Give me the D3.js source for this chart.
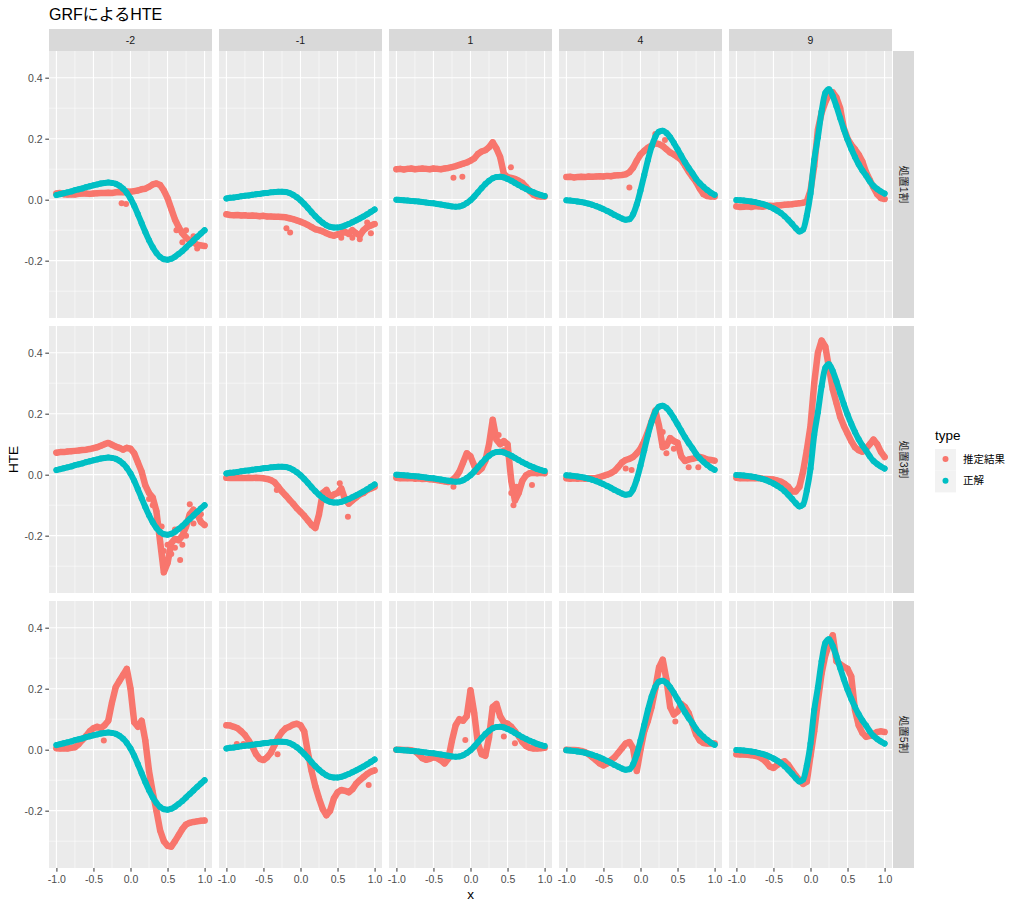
<!DOCTYPE html>
<html>
<head>
<meta charset="utf-8">
<script src="https://cdn.jsdelivr.net/npm/d3@7"></script>
<style>
  body { margin: 0; background: #fff; }
  text { font-family: "Liberation Sans", "Noto Sans CJK JP", sans-serif; }
</style>
</head>
<body>
<svg id="chart" width="1021" height="910"></svg>
<script>
// facet labels
const colLabels = ['-2', '-1', '1', '4', '9'];
const rowLabels = ['処置1割', '処置3割', '処置5割'];
const typeNames = ['推定結果', '正解'];

// x positions of the read values
const xGrid = [-1,-0.95,-0.9,-0.85,-0.8,-0.75,-0.7,-0.65,-0.6,-0.55,-0.5,-0.45,-0.4,-0.35,-0.3,-0.25,-0.2,-0.15,-0.1,-0.05,
  0,0.05,0.1,0.15,0.2,0.25,0.3,0.35,0.4,0.45,0.5,0.55,0.6,0.65,0.7,0.75,0.8,0.85,0.9,0.95,1];

// 正解 (same in every row)
const truth_m2 = [0.015,0.018,0.021,0.024,0.027,0.031,0.034,0.037,0.041,0.044,0.047,0.050,0.053,0.055,0.056,0.055,0.052,0.046,0.036,0.022,
  0.004,-0.020,-0.048,-0.077,-0.106,-0.133,-0.156,-0.175,-0.188,-0.195,-0.197,-0.194,-0.187,-0.178,-0.168,-0.157,-0.145,-0.134,-0.122,-0.111,-0.100];
const truth_m1 = [0.004,0.006,0.007,0.009,0.011,0.013,0.014,0.016,0.018,0.019,0.021,0.022,0.024,0.025,0.026,0.026,0.025,0.022,0.016,0.008,
  -0.002,-0.014,-0.027,-0.041,-0.054,-0.066,-0.076,-0.084,-0.089,-0.091,-0.091,-0.089,-0.085,-0.080,-0.074,-0.068,-0.062,-0.055,-0.048,-0.040,-0.032];
const truth_p1 = [0.000,-0.001,-0.002,-0.003,-0.004,-0.005,-0.006,-0.008,-0.009,-0.011,-0.012,-0.014,-0.016,-0.018,-0.020,-0.022,-0.023,-0.022,-0.018,-0.011,
  -0.002,0.010,0.024,0.038,0.051,0.062,0.070,0.074,0.075,0.073,0.068,0.062,0.055,0.048,0.041,0.035,0.029,0.024,0.019,0.015,0.012];
const truth_p4 = [-0.002,-0.003,-0.004,-0.006,-0.008,-0.010,-0.013,-0.017,-0.021,-0.026,-0.031,-0.037,-0.043,-0.050,-0.056,-0.062,-0.066,-0.064,-0.048,-0.015,
  0.030,0.080,0.130,0.174,0.206,0.223,0.226,0.219,0.205,0.186,0.165,0.144,0.123,0.104,0.087,0.068,0.054,0.042,0.032,0.023,0.016];
const truth_p9 = [-0.001,-0.002,-0.003,-0.004,-0.006,-0.008,-0.011,-0.014,-0.018,-0.023,-0.029,-0.036,-0.044,-0.054,-0.066,-0.079,-0.093,-0.104,-0.098,-0.052,
  0.020,0.130,0.205,0.290,0.350,0.362,0.340,0.306,0.268,0.231,0.197,0.167,0.140,0.116,0.096,0.079,0.060,0.045,0.035,0.027,0.020];

// 推定結果, 処置1割
const est1_m2 = [0.020,0.022,0.018,0.017,0.018,0.017,0.019,0.020,0.020,0.019,0.020,0.021,0.022,0.022,0.023,0.022,0.024,0.025,0.024,0.027,
  0.026,0.028,0.030,0.034,0.036,0.042,0.050,0.053,0.048,0.030,0.005,-0.030,-0.065,-0.090,-0.110,-0.125,-0.135,-0.140,-0.148,-0.150,-0.152];
const est1_m1 = [-0.048,-0.050,-0.051,-0.050,-0.052,-0.051,-0.053,-0.052,-0.053,-0.054,-0.053,-0.055,-0.055,-0.056,-0.056,-0.057,-0.058,-0.061,-0.064,-0.068,
  -0.072,-0.077,-0.083,-0.090,-0.097,-0.100,-0.104,-0.110,-0.115,-0.118,-0.114,-0.110,-0.105,-0.112,-0.100,-0.110,-0.118,-0.100,-0.090,-0.085,-0.080];
const est1_p1 = [0.100,0.101,0.099,0.101,0.102,0.100,0.101,0.102,0.101,0.100,0.102,0.101,0.100,0.102,0.104,0.107,0.110,0.114,0.118,0.122,
  0.128,0.135,0.150,0.158,0.162,0.172,0.188,0.168,0.140,0.085,0.074,0.071,0.068,0.062,0.055,0.042,0.028,0.016,0.011,0.010,0.010];
const est1_p4 = [0.074,0.075,0.073,0.074,0.075,0.074,0.076,0.075,0.076,0.077,0.076,0.078,0.077,0.079,0.080,0.081,0.083,0.090,0.105,0.128,
  0.148,0.160,0.170,0.178,0.185,0.182,0.176,0.165,0.155,0.148,0.140,0.130,0.112,0.092,0.075,0.058,0.036,0.018,0.012,0.010,0.010];
const est1_p9 = [-0.022,-0.024,-0.023,-0.022,-0.024,-0.021,-0.022,-0.023,-0.021,-0.020,-0.021,-0.019,-0.018,-0.017,-0.016,-0.015,-0.013,-0.012,-0.010,-0.006,
  0.030,0.110,0.230,0.285,0.320,0.345,0.352,0.335,0.300,0.235,0.200,0.180,0.165,0.148,0.125,0.090,0.065,0.040,0.018,0.005,0.002];

// 推定結果, 処置3割
const est2_m2 = [0.072,0.074,0.074,0.076,0.077,0.078,0.079,0.081,0.082,0.084,0.087,0.090,0.095,0.100,0.104,0.098,0.092,0.088,0.082,0.088,
  0.085,0.070,0.040,0.010,-0.035,-0.060,-0.075,-0.120,-0.220,-0.320,-0.290,-0.225,-0.210,-0.215,-0.200,-0.170,-0.130,-0.115,-0.130,-0.155,-0.165];
const est2_m1 = [-0.010,-0.011,-0.010,-0.011,-0.010,-0.011,-0.010,-0.011,-0.010,-0.011,-0.012,-0.014,-0.018,-0.025,-0.040,-0.055,-0.068,-0.082,-0.095,-0.110,
  -0.122,-0.135,-0.150,-0.165,-0.175,-0.130,-0.060,-0.050,-0.075,-0.065,-0.060,-0.045,-0.080,-0.095,-0.085,-0.075,-0.065,-0.060,-0.050,-0.045,-0.040];
const est2_p1 = [-0.010,-0.012,-0.011,-0.012,-0.011,-0.013,-0.012,-0.014,-0.013,-0.015,-0.016,-0.018,-0.020,-0.022,-0.024,-0.018,-0.008,0.010,0.040,0.070,
  0.060,0.030,0.010,0.020,0.045,0.100,0.180,0.115,0.100,0.110,0.100,-0.020,-0.085,-0.060,-0.020,-0.002,0.005,0.006,0.005,0.006,0.005];
const est2_p4 = [-0.012,-0.013,-0.012,-0.013,-0.012,-0.013,-0.012,-0.012,-0.011,-0.008,-0.004,0.000,0.005,0.012,0.025,0.040,0.048,0.052,0.058,0.070,
  0.085,0.110,0.140,0.175,0.210,0.160,0.090,0.095,0.120,0.110,0.105,0.060,0.045,0.050,0.052,0.055,0.058,0.055,0.050,0.048,0.046];
const est2_p9 = [-0.010,-0.012,-0.011,-0.012,-0.011,-0.012,-0.011,-0.013,-0.014,-0.015,-0.016,-0.019,-0.023,-0.030,-0.040,-0.055,-0.055,-0.040,0.010,0.080,
  0.160,0.300,0.400,0.440,0.420,0.350,0.280,0.235,0.190,0.160,0.135,0.110,0.090,0.080,0.075,0.085,0.100,0.115,0.100,0.075,0.058];

// 推定結果, 処置5割
const est3_m2 = [0.005,0.004,0.005,0.004,0.006,0.008,0.018,0.032,0.045,0.060,0.070,0.075,0.070,0.080,0.095,0.155,0.205,0.225,0.245,0.265,
  0.200,0.090,0.075,0.095,0.030,-0.070,-0.140,-0.200,-0.265,-0.300,-0.315,-0.318,-0.300,-0.280,-0.260,-0.245,-0.240,-0.237,-0.235,-0.233,-0.232];
const est3_m1 = [0.080,0.079,0.075,0.070,0.060,0.048,0.030,0.010,-0.015,-0.030,-0.034,-0.025,-0.010,0.015,0.040,0.058,0.070,0.075,0.082,0.085,
  0.080,0.060,-0.010,-0.070,-0.120,-0.160,-0.195,-0.215,-0.200,-0.160,-0.140,-0.132,-0.135,-0.140,-0.130,-0.112,-0.100,-0.090,-0.080,-0.072,-0.068];
const est3_p1 = [0.000,0.000,-0.001,-0.001,-0.002,-0.005,-0.015,-0.028,-0.033,-0.030,-0.025,-0.028,-0.035,-0.045,-0.030,0.030,0.080,0.100,0.095,0.110,
  0.195,0.120,0.020,-0.015,-0.020,0.040,0.140,0.150,0.110,0.090,0.085,0.075,0.060,0.045,0.025,0.012,0.006,0.004,0.004,0.005,0.006];
const est3_p4 = [0.000,-0.001,-0.001,-0.002,-0.004,-0.008,-0.015,-0.025,-0.035,-0.045,-0.052,-0.045,-0.035,-0.025,-0.010,0.005,0.020,0.025,0.005,-0.070,
  0.000,0.060,0.095,0.140,0.200,0.270,0.295,0.230,0.140,0.115,0.125,0.150,0.140,0.120,0.085,0.050,0.030,0.022,0.020,0.020,0.020];
const est3_p9 = [-0.015,-0.016,-0.016,-0.017,-0.018,-0.020,-0.023,-0.030,-0.040,-0.055,-0.060,-0.050,-0.042,-0.038,-0.050,-0.068,-0.085,-0.100,-0.112,-0.105,
  -0.020,0.060,0.160,0.250,0.310,0.345,0.375,0.290,0.280,0.272,0.265,0.240,0.130,0.080,0.055,0.042,0.045,0.052,0.058,0.060,0.058];

// stray 推定結果 points: [column, x, HTE]
const stray1 = [[0,-0.12,-0.012],[0,-0.06,-0.014],[0,0.62,-0.10],[0,0.7,-0.14],[0,0.75,-0.10],[0,0.85,-0.12],[0,0.9,-0.16],
  [1,-0.19,-0.094],[1,-0.14,-0.108],[1,0.55,-0.125],[1,0.7,-0.125],[1,0.8,-0.13],[1,0.9,-0.075],[1,0.95,-0.11],
  [2,-0.23,0.072],[2,-0.11,0.075],[2,0.545,0.106],[3,-0.15,0.040],[3,0.20,0.215],[3,0.33,0.196]];
const stray2 = [[0,0.67,-0.28],[0,0.8,-0.097],[0,0.25,-0.08],[0,0.3,-0.10],[0,0.35,-0.15],[0,0.42,-0.17],[0,0.45,-0.25],[0,0.5,-0.23],
  [0,0.55,-0.26],[0,0.6,-0.24],[0,0.6,-0.18],[0,0.7,-0.23],[0,0.75,-0.2],[0,0.85,-0.16],[0,0.95,-0.13],
  [1,-0.32,-0.05],[1,0.53,-0.028],[1,0.64,-0.138],[2,-0.23,-0.04],[2,0.83,-0.034],[2,0.55,-0.06],[2,0.58,-0.1],[2,0.62,-0.04],
  [2,0.38,0.13],[2,0.45,0.08],[3,-0.2,0.02],[3,-0.12,0.015],[3,0.65,0.024],[3,0.78,0.024],[3,0.3,0.14],[3,0.35,0.07],[3,0.45,0.085]];
const stray3 = [[0,-0.36,0.03],[1,-0.86,0.019],[1,-0.77,0.019],[1,-0.31,-0.015],[1,0.92,-0.116],[2,-0.07,0.032],[2,0.45,0.043],
  [2,0.6,0.021],[3,0.47,0.092]];

const xMajor = [-1, -0.5, 0, 0.5, 1];
const xMinor = [-0.75, -0.25, 0.25, 0.75];
const yMajor = [-0.2, 0, 0.2, 0.4];
const yMinor = [-0.3, -0.1, 0.1, 0.3];

const truthByCol = [truth_m2, truth_m1, truth_p1, truth_p4, truth_p9];
const estByRow = [
  [est1_m2, est1_m1, est1_p1, est1_p4, est1_p9],
  [est2_m2, est2_m1, est2_p1, est2_p4, est2_p9],
  [est3_m2, est3_m1, est3_p1, est3_p4, est3_p9]
];
const strayByRow = [stray1, stray2, stray3];

const svg = d3.select('#chart');
const panelW = 163, panelH = 267;
const left0 = 49, top0 = 51, stepX = 170, stepY = 275;

const x = d3.scaleLinear().domain([-1.1, 1.1]).range([0, panelW]);
const y = d3.scaleLinear().domain([-0.388, 0.4875]).range([panelH, 0]);
const color = d3.scaleOrdinal().domain(typeNames).range(['#F8766D', '#00BFC4']);

const toPts = vals => vals.map((v, i) => ({x: xGrid[i], y: v}));
const lineSmooth = d3.line().x(d => x(d.x)).y(d => y(d.y)).curve(d3.curveMonotoneX);
const lineRough = d3.line().x(d => x(d.x)).y(d => y(d.y));

// title
svg.append('text').attr('x', 49).attr('y', 20)
  .style('font-size', '16px').attr('fill', '#000').text('GRFによるHTE');

rowLabels.forEach((rl, r) => {
  colLabels.forEach((cl, c) => {
    const g = svg.append('g')
      .attr('transform', `translate(${left0 + c * stepX},${top0 + r * stepY})`);

    g.append('rect').attr('width', panelW).attr('height', panelH).attr('fill', '#EBEBEB');

    g.selectAll('.vmin').data(xMinor).enter().append('line')
      .attr('x1', d => x(d)).attr('x2', d => x(d)).attr('y1', 0).attr('y2', panelH)
      .attr('stroke', '#fff').attr('stroke-width', 0.55);
    g.selectAll('.hmin').data(yMinor).enter().append('line')
      .attr('y1', d => y(d)).attr('y2', d => y(d)).attr('x1', 0).attr('x2', panelW)
      .attr('stroke', '#fff').attr('stroke-width', 0.55);
    g.selectAll('.vmaj').data(xMajor).enter().append('line')
      .attr('x1', d => x(d)).attr('x2', d => x(d)).attr('y1', 0).attr('y2', panelH)
      .attr('stroke', '#fff').attr('stroke-width', 1.1);
    g.selectAll('.hmaj').data(yMajor).enter().append('line')
      .attr('y1', d => y(d)).attr('y2', d => y(d)).attr('x1', 0).attr('x2', panelW)
      .attr('stroke', '#fff').attr('stroke-width', 1.1);

    // 推定結果
    const est = toPts(estByRow[r][c]);
    g.append('path').datum(est).attr('d', lineRough)
      .attr('fill', 'none').attr('stroke', color(typeNames[0]))
      .attr('stroke-width', 6.5).attr('stroke-linecap', 'round').attr('stroke-linejoin', 'round');
    const stray = strayByRow[r].filter(s => s[0] === c).map(s => ({x: s[1], y: s[2]}));
    g.selectAll('.est').data(est.concat(stray)).enter().append('circle')
      .attr('cx', d => x(d.x)).attr('cy', d => y(d.y)).attr('r', 3)
      .attr('fill', color(typeNames[0]));

    // 正解
    const tr = toPts(truthByCol[c]);
    g.append('path').datum(tr).attr('d', lineSmooth)
      .attr('fill', 'none').attr('stroke', color(typeNames[1]))
      .attr('stroke-width', 6).attr('stroke-linecap', 'round').attr('stroke-linejoin', 'round');
    g.selectAll('.tr').data(tr).enter().append('circle')
      .attr('cx', d => x(d.x)).attr('cy', d => y(d.y)).attr('r', 3)
      .attr('fill', color(typeNames[1]));

    // axes
    if (c === 0) {
      const ax = g.append('g')
        .call(d3.axisLeft(y).tickValues(yMajor).tickSize(3.7).tickPadding(2.6).tickFormat(d => d.toFixed(1)));
      ax.select('.domain').remove();
      ax.selectAll('line').attr('stroke', '#333');
      ax.selectAll('text').attr('fill', '#4D4D4D').style('font-size', '10.5px');
    }
    if (r === rowLabels.length - 1) {
      const ax = g.append('g').attr('transform', `translate(0,${panelH})`)
        .call(d3.axisBottom(x).tickValues(xMajor).tickSize(3.7).tickPadding(4.3).tickFormat(d => d.toFixed(1)));
      ax.select('.domain').remove();
      ax.selectAll('line').attr('stroke', '#333');
      ax.selectAll('text').attr('fill', '#4D4D4D').style('font-size', '10.5px');
    }
  });

  // row strip
  const rs = svg.append('g').attr('transform', `translate(893,${top0 + r * stepY})`);
  rs.append('rect').attr('width', 21).attr('height', panelH).attr('fill', '#D9D9D9');
  rs.append('text')
    .attr('transform', `translate(10.5,${panelH / 2}) rotate(90)`)
    .attr('text-anchor', 'middle').attr('dy', '0.35em')
    .style('font-size', '10.5px').attr('fill', '#1A1A1A').text(rl);
});

// column strips
colLabels.forEach((cl, c) => {
  const cs = svg.append('g').attr('transform', `translate(${left0 + c * stepX},29)`);
  cs.append('rect').attr('width', panelW).attr('height', 22).attr('fill', '#D9D9D9');
  cs.append('text').attr('x', panelW / 2).attr('y', 11).attr('dy', '0.35em')
    .attr('text-anchor', 'middle').style('font-size', '10.5px').attr('fill', '#1A1A1A').text(cl);
});

// axis titles
svg.append('text').attr('x', 470.5).attr('y', 899).attr('text-anchor', 'middle')
  .style('font-size', '13.5px').text('x');
svg.append('text').attr('transform', 'translate(17.5,459.5) rotate(-90)').attr('text-anchor', 'middle')
  .style('font-size', '13.5px').text('HTE');

// legend
const legend = svg.append('g').attr('transform', 'translate(935,0)');
legend.append('text').attr('x', 0).attr('y', 440).style('font-size', '13.5px').text('type');
const items = legend.selectAll('.legend').data(typeNames).enter().append('g')
  .attr('class', 'legend')
  .attr('transform', (d, i) => `translate(0,${449 + i * 21.7})`);
items.append('rect').attr('width', 21).attr('height', 21.7).attr('fill', '#F2F2F2');
items.append('circle').attr('cx', 10.5).attr('cy', 10).attr('r', 3).attr('fill', d => color(d));
items.append('text').attr('x', 28).attr('y', 10).attr('dy', '0.35em')
  .style('font-size', '10.5px').attr('fill', '#000').text(d => d);
</script>
</body>
</html>
